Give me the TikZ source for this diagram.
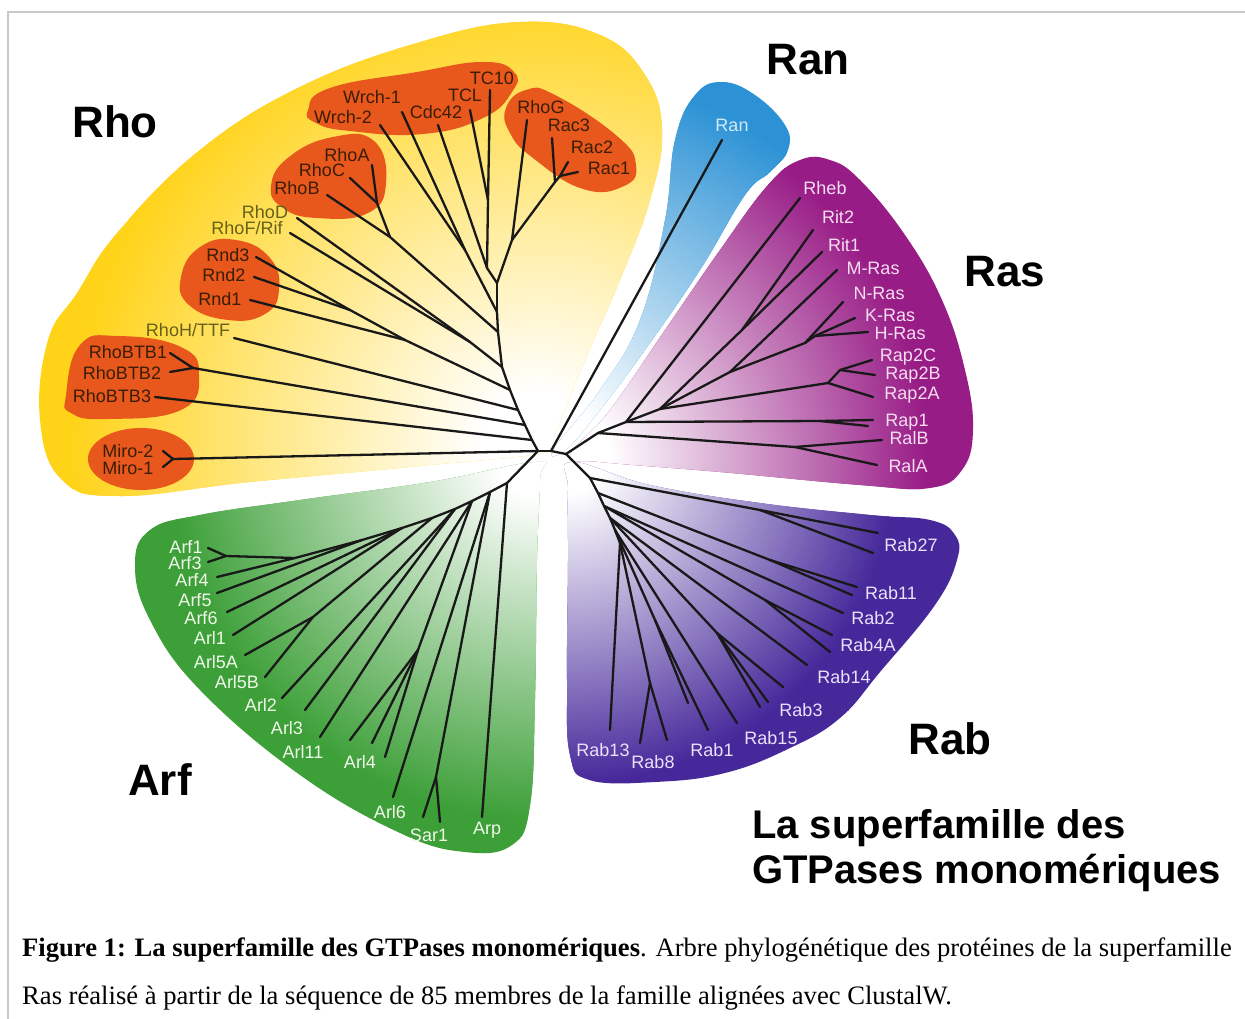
\documentclass[tikz,border=0pt]{standalone}
\usepackage{fontspec}
\setmainfont{Liberation Serif}
\setsansfont{Liberation Sans}

\definecolor{framegray}{HTML}{C8C8C8}
\definecolor{rhoyellow}{HTML}{FFD318}
\definecolor{rhoorange}{HTML}{E8571C}
\definecolor{ranblue}{HTML}{2C92D5}
\definecolor{rasmagenta}{HTML}{981C86}
\definecolor{rabpurple}{HTML}{46289A}
\definecolor{arfgreen}{HTML}{3C9F37}
\definecolor{rhodark}{HTML}{3A1E06}
\definecolor{rhoolive}{HTML}{66621A}
\definecolor{ranlight}{HTML}{D2E9F8}
\definecolor{raslight}{HTML}{F6DDF1}
\definecolor{rablight}{HTML}{E9E2FA}
\definecolor{arflight}{HTML}{F0F8EA}

\newcommand\familyglow[2]{%
	\pgfdeclareradialshading{#1}{\pgfpoint{0bp}{0bp}}{color(0bp)=(white); color(3bp)=(white); color(10bp)=(#2!32); color(18bp)=(#2!68); color(25bp)=(#2); color(50bp)=(#2)}}
\familyglow{rhoglow}{rhoyellow}
\familyglow{ranglow}{ranblue}
\familyglow{rasglow}{rasmagenta}
\familyglow{rabglow}{rabpurple}
\familyglow{arfglow}{arfgreen}

\begin{document}
\begin{tikzpicture}[x=1pt, y=-1pt,
		branch/.style={line width=2.3pt, draw=black!90, line cap=round, line join=round},
		leaf/.style={font=\sffamily\fontsize{18}{18}\selectfont, inner sep=0pt},
		family/.style={font=\sffamily\bfseries\fontsize{44}{44}\selectfont, inner sep=0pt, anchor=base},
		title/.style={font=\sffamily\bfseries\fontsize{40}{40}\selectfont, inner sep=0pt, anchor=base west},
		caption/.style={font=\fontsize{26.6}{26.6}\selectfont, inner sep=0pt, anchor=base west}]

	\fill[white, use as bounding box] (0,0) rectangle (1245,1019);
	\draw[framegray, line width=1.2pt] (8,1019) -- (8,12) -- (1245,12);

	\coordinate (rootL) at (538,451);
	\coordinate (rootM) at (551,451);
	\coordinate (rootR) at (566,454);

	\begin{scope}
		\clip plot[smooth cycle, tension=0.7] coordinates {(548,452) (420,466) (250,482) (120,496) (62,480) (40,420) (48,340) (77,293) (117,233) (200,150) (300,87) (417,43) (520,22) (600,35) (645,75) (662,130) (650,200) (620,280) (585,360) (555,435)};
		\fill[rhoyellow] (rootL) circle (1000pt);
		\shade[shading=rhoglow] (rootL) circle (470pt);
	\end{scope}
	\begin{scope}
		\clip plot[smooth cycle, tension=0.7] coordinates {(553,450) (600,390) (640,320) (665,220) (675,140) (695,95) (722,82) (755,95) (785,125) (788,150) (770,172) (745,195) (700,270) (645,350) (600,410) (568,448)};
		\fill[ranblue] (rootM) circle (1000pt);
		\shade[shading=ranglow] (rootM) circle (380pt);
	\end{scope}
	\begin{scope}
		\clip plot[smooth cycle, tension=0.7] coordinates {(570,456) (610,410) (665,330) (720,250) (768,185) (800,160) (830,160) (860,180) (905,235) (942,300) (965,370) (973,430) (962,470) (930,488) (860,485) (720,472) (600,462)};
		\fill[rasmagenta] (rootR) circle (1000pt);
		\shade[shading=rasglow] (rootR) circle (360pt);
	\end{scope}
	\begin{scope}
		\clip plot[smooth cycle, tension=0.7] coordinates {(572,462) (650,485) (760,503) (870,515) (930,520) (955,535) (957,560) (935,605) (880,672) (840,718) (790,748) (725,773) (655,782) (590,780) (570,755) (567,680) (568,560) (568,490)};
		\fill[rabpurple] (rootR) circle (1000pt);
		\shade[shading=rabglow] (rootR) circle (330pt);
	\end{scope}
	\begin{scope}
		\clip plot[smooth cycle, tension=0.7] coordinates {(537,462) (430,482) (300,500) (200,515) (150,530) (135,565) (150,620) (200,690) (300,775) (400,833) (465,852) (512,845) (530,805) (535,700) (537,560) (540,480)};
		\fill[arfgreen] (rootL) circle (1000pt);
		\shade[shading=arfglow] (rootL) circle (370pt);
	\end{scope}

	\fill[rhoorange] plot[smooth cycle, tension=0.8] coordinates {(308,110) (330,88) (417,72) (483,62) (514,72) (512,92) (483,118) (423,134) (350,131) (316,123)};
	\fill[rhoorange] plot[smooth cycle, tension=0.8] coordinates {(506,108) (526,90) (555,95) (617,136) (636,165) (624,186) (583,189) (533,158) (510,133)};
	\fill[rhoorange] plot[smooth cycle, tension=0.8] coordinates {(271,186) (289,157) (333,137) (374,141) (386,183) (368,213) (317,218) (283,208)};
	\fill[rhoorange] plot[smooth cycle, tension=0.8] coordinates {(181,277) (200,247) (236,240) (270,258) (279,290) (265,314) (228,320) (189,305)};
	\fill[rhoorange] plot[smooth cycle, tension=0.8] coordinates {(66,395) (80,345) (118,336) (181,347) (199,375) (181,410) (107,419) (71,413)};
	\fill[rhoorange] (141,459) ellipse [x radius=53, y radius=31];

	\foreach \n/\x/\y in {wrch1/402/112, wrch2/380/125, cdc42/438/125, tcl/470/110, tc10/490/90, rhog/527/120, rac3/552/138, rac2/568/162, rac1/578/172, rhoa/372/165, rhoc/350/178, rhob/327/195, rhod/297/218, rhof/290/233, rnd3/256/257, rnd2/254/277, rnd1/250/300, rhoh/234/338, btb1/170/353, btb2/170/372, btb3/155/397, miro2/163/451, miro1/163/467,
			tcn/488/200, cdn/487/268, racb/560/176, racn/555/182, rhogn/512/240, wrn/465/250, acn/377/203, abn/390/237, dfn/470/342, rndb/350/310, rndn/405/340, btbn/193/368, miron/173/459,
			s1/532/440, s2/525/425, s3/518/410, s4/510/390, s5/502/367, s6/498/332, sw/497/312, s7/497/283, ran/722/140}
		\coordinate (\n) at (\x,\y);
	\foreach \n/\x/\y in {rheb/800/198, rit2/813/230, rit1/822/252, mras/837/270, nras/843/302, kras/855/318, hras/868/332, rap2c/872/360, rap2b/875/375, rap2a/873/397, rap1a/873/420, rap1b/868/426, ralb/882/440, rala/877/465,
			ra1/598/433, ra2/626/422, ra3/660/409, ra4/730/372, ritn/742/330, khn/815/336, nkhn/805/343, rap2bc/840/370, rap2n/828/383, rap1n/820/421, raln/795/447}
		\coordinate (\n) at (\x,\y);
	\foreach \n/\x/\y in {rab27a/878/533, rab27b/873/553, rab11a/857/587, rab11b/852/595, rab2/843/613, rab4a/832/635, rab4b/830/652, rab14/807/665, rab3a/783/687, rab3b/768/702, rab3c/760/707, rab15/737/723, rab1a/708/730, rab1b/688/703, rab8a/667/740, rab8b/640/743, rab13/610/730,
			rb1/590/478, rb2/598/493, rb3/604/506, rb4/610/518, rb5/615/530, rb6/620/543, r27n/760/510, r11n/770/560, r4n/765/600, r3n/717/633, r1n/655/620, r8n/650/683}
		\coordinate (\n) at (\x,\y);
	\foreach \n/\x/\y in {arf1/208/548, arf3/208/562, arf4/217/577, arf5/217/593, arf6/227/612, arl1/233/635, arl5a/245/655, arl5b/265/677, arl2/282/698, arl3/305/710, arl11/320/737, arl4a/350/740, arl4b/372/743, arl4c/385/757, arl6/393/797, sar1a/423/817, sar1b/440/822, arp/482/817,
			af0/507/483, af1/490/492, af2/472/501, af3/455/509, af4/432/518, af5/402/528, af6/362/540, af7/295/558, arf13n/226/556, arl5n/313/617, arl4n/418/650, sarn/436/777}
		\coordinate (\n) at (\x,\y);

	\foreach \a/\b in {tc10/tcn, tcl/tcn, tcn/cdn, cdc42/cdn, cdn/s7, rac1/racb, rac2/racb, racb/racn, rac3/racn, racn/rhogn, rhog/rhogn, rhogn/s7, wrch1/wrn, wrch2/wrn, wrn/sw, rhoa/acn, rhoc/acn, acn/abn, rhob/abn, abn/s6, rhod/dfn, rhof/dfn, dfn/s5, rnd3/rndb, rnd2/rndb, rndb/rndn, rnd1/rndn, rndn/s4, rhoh/s3, btb1/btbn, btb2/btbn, btbn/s2, btb3/s1, miro1/miron, miro2/miron, miron/rootL, s7/sw, sw/s6, s6/s5, s5/s4, s4/s3, s3/s2, s2/s1, s1/rootL, rootL/rootM, rootM/rootR, ran/rootM}
		\draw[branch] (\a) -- (\b);
	\foreach \a/\b in {kras/khn, hras/khn, khn/nkhn, nras/nkhn, nkhn/ra4, mras/ra4, rit1/ritn, rit2/ritn, ritn/ra3, rap2c/rap2bc, rap2b/rap2bc, rap2bc/rap2n, rap2a/rap2n, rap2n/ra3, rheb/ra2, rap1a/rap1n, rap1b/rap1n, rap1n/ra2, ralb/raln, rala/raln, raln/ra1, ra4/ra3, ra3/ra2, ra2/ra1, ra1/rootR}
		\draw[branch] (\a) -- (\b);
	\foreach \a/\b in {rab27a/r27n, rab27b/r27n, r27n/rb1, rab11a/r11n, rab11b/r11n, r11n/rb2, rab2/rb3, rab4a/r4n, rab4b/r4n, r4n/rb3, rab14/rb4, rab3a/r3n, rab3b/r3n, rab3c/r3n, r3n/rb4, rab15/rb5, rab1a/r1n, rab1b/r1n, r1n/rb5, rab8a/r8n, rab8b/r8n, r8n/rb6, rab13/rb6, rb6/rb5, rb5/rb4, rb4/rb3, rb3/rb2, rb2/rb1, rb1/rootR}
		\draw[branch] (\a) -- (\b);
	\foreach \a/\b in {arp/af0, sar1a/sarn, sar1b/sarn, sarn/af1, arl6/af1, arl4a/arl4n, arl4b/arl4n, arl4c/arl4n, arl4n/af2, arl11/af2, arl3/af3, arl2/af3, arl5a/arl5n, arl5b/arl5n, arl5n/af4, arl1/af5, arf6/af5, arf5/af6, arf4/af7, arf1/arf13n, arf3/arf13n, arf13n/af7, af7/af6, af6/af5, af5/af4, af4/af3, af3/af2, af2/af1, af1/af0, af0/rootL}
		\draw[branch] (\a) -- (\b);

	\foreach \n/\x/\y/\t in {wrch1/372/97/Wrch-1, wrch2/343/117/Wrch-2, cdc42/436/112/Cdc42, tcl/465/95/TCL, tc10/492/78/TC10, rhog/541/107/RhoG, rac3/569/125/Rac3, rac2/592/147/Rac2, rac1/609/168/Rac1, rhoa/347/155/RhoA, rhoc/322/170/RhoC, rhob/297/188/RhoB, rnd3/228/255/Rnd3, rnd2/224/275/Rnd2, rnd1/220/299/Rnd1, btb1/128/352/RhoBTB1, btb2/122/373/RhoBTB2, btb3/112/396/RhoBTB3, miro2/128/451/Miro-2, miro1/128/468/Miro-1}
		\node[leaf, text=rhodark] (l-\n) at (\x,\y) {\t};
	\foreach \n/\x/\y/\t in {rhod/265/212/RhoD, rhof/247/228/{RhoF/Rif}, rhoh/188/330/{RhoH/TTF}}
		\node[leaf, text=rhoolive] (l-\n) at (\x,\y) {\t};
	\node[leaf, text=ranlight] (l-ran) at (732,125) {Ran};
	\foreach \n/\x/\y/\t in {rheb/825/188/Rheb, rit2/838/217/Rit2, rit1/844/245/Rit1, mras/873/268/M-Ras, nras/879/293/N-Ras, kras/890/315/K-Ras, hras/900/333/H-Ras, rap2c/908/357/Rap2C, rap2b/913/375/Rap2B, rap2a/912/395/Rap2A, rap1/907/422/Rap1, ralb/909/438/RalB, rala/908/466/RalA}
		\node[leaf, text=raslight] (l-\n) at (\x,\y) {\t};
	\foreach \n/\x/\y/\t in {rab27/911/545/Rab27, rab11/891/593/Rab11, rab2/873/618/Rab2, rab4a/868/645/Rab4A, rab14/844/677/Rab14, rab3/801/710/Rab3, rab15/771/738/Rab15, rab1/712/750/Rab1, rab8/653/762/Rab8, rab13/603/750/Rab13}
		\node[leaf, text=rablight] (l-\n) at (\x,\y) {\t};
	\foreach \n/\x/\y/\t in {arf1/186/547/Arf1, arf3/185/563/Arf3, arf4/192/580/Arf4, arf5/195/600/Arf5, arf6/201/618/Arf6, arl1/210/638/Arl1, arl5a/216/662/Arl5A, arl5b/237/682/Arl5B, arl2/261/705/Arl2, arl3/287/728/Arl3, arl11/303/752/Arl11, arl4/360/762/Arl4, arl6/390/812/Arl6, sar1/429/835/Sar1, arp/487/830/Arp}
		\node[leaf, text=arflight] (l-\n) at (\x,\y) {\t};

	\node[family] (rhoname) at (115,138) {Rho};
	\node[family] (ranname) at (808,75) {Ran};
	\node[family] (rasname) at (1005,287) {Ras};
	\node[family] (rabname) at (950,754) {Rab};
	\node[family] (arfname) at (160,795) {Arf};

	\node[title] (title1) at (752,838) {La superfamille des};
	\node[title] (title2) at ([yshift=-45pt]title1.base west) {GTPases monomériques};

	\node[caption] (caption1) at (22,956) {\textbf{Figure 1: La superfamille des GTPases monomériques}. Arbre phylogénétique des protéines de la superfamille};
	\node[caption] (caption2) at ([yshift=-48pt]caption1.base west) {Ras réalisé à partir de la séquence de 85 membres de la famille alignées avec ClustalW.};
\end{tikzpicture}
\end{document}
